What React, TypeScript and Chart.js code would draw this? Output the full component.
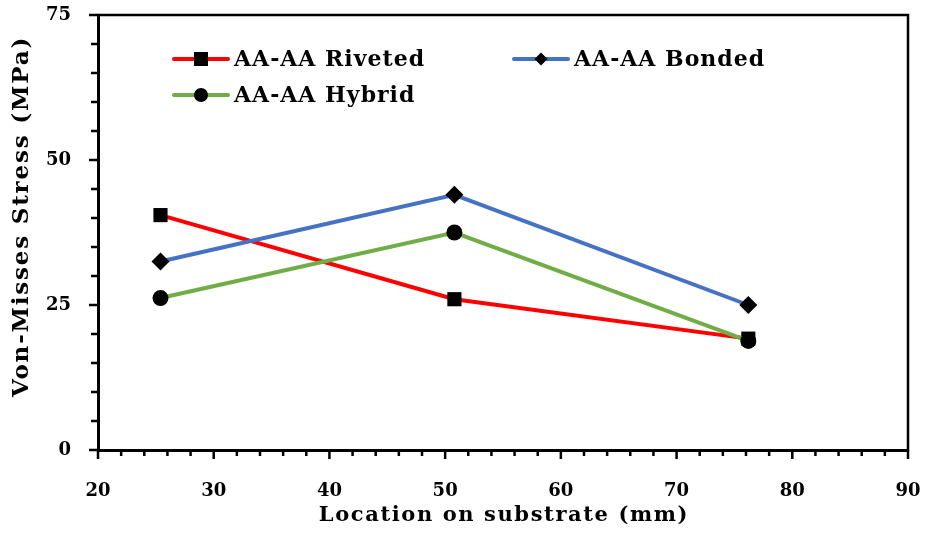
import React, { useEffect, useRef } from "react";
import { Chart, registerables } from "chart.js";

Chart.register(...registerables);

const xPositions = [25.4, 50.8, 76.2];
const rivetedValues = [40.5, 26.0, 19.2];
const bondedValues = [32.5, 44.0, 25.0];
const hybridValues = [26.2, 37.5, 18.8];
const seriesNames = ["AA-AA Riveted", "AA-AA Bonded", "AA-AA Hybrid"];
const seriesColors = ["#FF0000", "#4472C4", "#70AD47"];
const seriesMarkers = ["rect", "rectRot", "circle"];
const xTitle = "Location on substrate (mm)";
const yTitle = "Von-Misses Stress (MPa)";

const FONT = "'DejaVu Serif', serif";

const frameTicksPlugin = {
  id: "frameTicks",
  beforeDatasetsDraw(chart: any) {
    const { ctx, chartArea: a, scales } = chart;
    const x = scales.x;
    const y = scales.y;
    ctx.save();
    ctx.strokeStyle = "#000";
    ctx.lineWidth = 2.5;
    ctx.lineCap = "butt";
    ctx.beginPath();
    ctx.moveTo(a.left - 1, a.top);
    ctx.lineTo(a.right, a.top);
    ctx.lineTo(a.right, a.bottom + 1);
    ctx.stroke();
    ctx.beginPath();
    x.ticks.forEach((t: any) => {
      const px = x.getPixelForValue(t.value);
      const len = Math.round(t.value) % 10 === 0 ? 9 : 6;
      ctx.moveTo(px, a.bottom);
      ctx.lineTo(px, a.bottom + len);
    });
    y.ticks.forEach((t: any) => {
      const py = y.getPixelForValue(t.value);
      const len = Math.round(t.value) % 25 === 0 ? 9 : 7;
      ctx.moveTo(a.left, py);
      ctx.lineTo(a.left - len, py);
    });
    ctx.stroke();
    ctx.restore();
  },
};

const legendTitlesPlugin = {
  id: "customLegendTitles",
  afterDraw(chart: any) {
    const { ctx, chartArea: a } = chart;
    const items = [
      { dx: 76, dy: 44 },
      { dx: 416, dy: 44 },
      { dx: 76, dy: 80 },
    ];
    ctx.save();
    items.forEach((it, i) => {
      const x0 = a.left + it.dx;
      const yc = a.top + it.dy;
      const x1 = x0 + 54;
      ctx.strokeStyle = seriesColors[i];
      ctx.lineWidth = 4;
      ctx.lineCap = "round";
      ctx.beginPath();
      ctx.moveTo(x0, yc);
      ctx.lineTo(x1, yc);
      ctx.stroke();
      const mx = (x0 + x1) / 2;
      ctx.fillStyle = "#000";
      ctx.beginPath();
      if (seriesMarkers[i] === "rect") {
        ctx.rect(mx - 7, yc - 7, 14, 14);
      } else if (seriesMarkers[i] === "rectRot") {
        ctx.moveTo(mx - 6.5, yc);
        ctx.lineTo(mx, yc - 6.5);
        ctx.lineTo(mx + 6.5, yc);
        ctx.lineTo(mx, yc + 6.5);
        ctx.closePath();
      } else {
        ctx.arc(mx, yc, 7, 0, Math.PI * 2);
      }
      ctx.fill();
      ctx.font = `bold 22px ${FONT}`;
      (ctx as any).letterSpacing = "1px";
      ctx.textBaseline = "middle";
      ctx.textAlign = "left";
      ctx.fillText(seriesNames[i], x1 + 6, yc + 1);
    });
    // axis titles
    ctx.fillStyle = "#000";
    ctx.font = `bold 21px ${FONT}`;
    (ctx as any).letterSpacing = "1.6px";
    ctx.textAlign = "center";
    ctx.textBaseline = "alphabetic";
    ctx.fillText(xTitle, (a.left + a.right) / 2 + 1, a.bottom + 71);
    ctx.translate(a.left - 76, (a.top + a.bottom) / 2 - 16);
    ctx.rotate(-Math.PI / 2);
    ctx.font = `bold 23px ${FONT}`;
    (ctx as any).letterSpacing = "1.8px";
    ctx.textBaseline = "middle";
    ctx.fillText(yTitle, 0, 0);
    ctx.restore();
  },
};

export default function App() {
  const canvasRef = useRef<HTMLCanvasElement | null>(null);

  useEffect(() => {
    if (!canvasRef.current) return;
    const mk = (vals: number[]) => vals.map((v, i) => ({ x: xPositions[i], y: v }));
    const radii = [10, 9, 8];
    const orders = [2, 1, 0];
    const valueSets = [rivetedValues, bondedValues, hybridValues];
    const resetPad = (s: any) => {
      s.paddingLeft = 0;
      s.paddingRight = 0;
      s.paddingTop = 0;
      s.paddingBottom = 0;
    };
    const chart = new Chart(canvasRef.current, {
      type: "line",
      data: {
        datasets: valueSets.map((vals, i) => ({
          label: seriesNames[i],
          data: mk(vals),
          borderColor: seriesColors[i],
          backgroundColor: "#000",
          borderWidth: 4,
          borderCapStyle: "round",
          pointStyle: seriesMarkers[i] as any,
          pointRadius: radii[i],
          pointBackgroundColor: "#000",
          pointBorderColor: "#000",
          pointBorderWidth: 0,
          tension: 0,
          order: orders[i],
        })),
      },
      options: {
        animation: false,
        responsive: false,
        layout: { padding: { top: 15, right: 18, left: 0, bottom: 0 } },
        plugins: { legend: { display: false }, tooltip: { enabled: false } },
        scales: {
          x: {
            type: "linear",
            min: 20,
            max: 90,
            grid: { display: false, drawTicks: false },
            border: { display: true, color: "#000", width: 3 },
            ticks: {
              stepSize: 2,
              autoSkip: false,
              maxRotation: 0,
              color: "#000",
              padding: 31,
              font: { family: FONT, size: 18, weight: "bold" },
              callback: (v: any) => (Math.round(v) % 10 === 0 ? String(v) : ""),
            },
            afterFit: (s: any) => {
              s.height = 88;
              resetPad(s);
            },
          },
          y: {
            type: "linear",
            min: 0,
            max: 75,
            grid: { display: false, drawTicks: false },
            border: { display: true, color: "#000", width: 3 },
            ticks: {
              stepSize: 5,
              autoSkip: false,
              color: "#000",
              padding: 27,
              font: { family: FONT, size: 18, weight: "bold" },
              callback: (v: any) => (Math.round(v) % 25 === 0 ? String(v) : ""),
            },
            afterFit: (s: any) => {
              s.width = 98;
              resetPad(s);
            },
          },
        },
      },
      plugins: [frameTicksPlugin, legendTitlesPlugin],
    });
    return () => chart.destroy();
  }, []);

  return (
    <div style={{ position: "fixed", left: 0, top: 0, width: 926, height: 538, background: "#fff" }}>
      <canvas ref={canvasRef} width={926} height={538} style={{ width: 926, height: 538 }} />
    </div>
  );
}
